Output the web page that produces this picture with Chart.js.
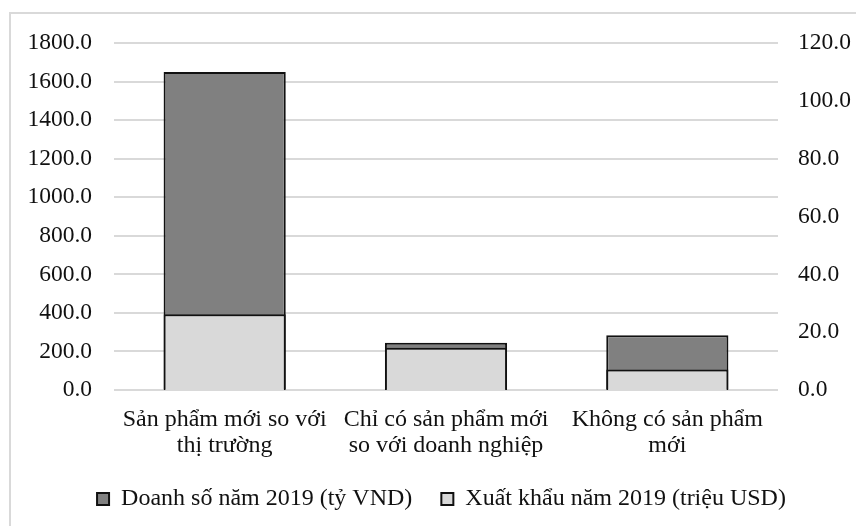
<!DOCTYPE html>
<html lang="vi">
<head>
<meta charset="utf-8">
<title>Doanh số và xuất khẩu 2019</title>
<script src="https://cdn.jsdelivr.net/npm/chart.js@4/dist/chart.umd.min.js"></script>
<style>
  html, body { margin: 0; padding: 0; background: #fff; }
  #khung { position: relative; width: 856px; height: 526px; overflow: hidden; }
  #vien { position: absolute; left: 9px; top: 12px; width: 900px; height: 600px;
          border: 2px solid #d9d9d9; box-sizing: border-box; }
  #bieu-do { position: absolute; left: 0; top: 0; }
</style>
</head>
<body>
<div id="khung">
  <div id="vien"></div>
  <canvas id="bieu-do" width="856" height="526"></canvas>
</div>
<script>
// Dữ liệu
const nhom = [
  ['Sản phẩm mới so với', 'thị trường'],
  ['Chỉ có sản phẩm mới', 'so với doanh nghiệp'],
  ['Không có sản phẩm', 'mới']
];
const doanhSo = [1650, 245, 284];     // tỷ VND - trục trái
const xuatKhau = [26.2, 14.6, 7.1];   // triệu USD - trục phải
const nhanTrucTrai = [0, 200, 400, 600, 800, 1000, 1200, 1400, 1600, 1800];
const nhanTrucPhai = [0, 20, 40, 60, 80, 100, 120];

const hoFont = '"Liberation Serif", "Times New Roman", serif';
const fontTruc = { family: hoFont, size: 23.5 };
const fontNhom = { family: hoFont, size: 24, lineHeight: 1.083 };
const fontChuGiai = { family: hoFont, size: 24 };
const mauChu = '#111';

const ctx = document.getElementById('bieu-do').getContext('2d');
new Chart(ctx, {
  type: 'bar',
  data: {
    labels: nhom,
    datasets: [
      {
        label: 'Doanh số năm 2019 (tỷ VND)',
        data: doanhSo,
        yAxisID: 'y',
        backgroundColor: '#808080',
        borderColor: '#111',
        borderWidth: 2,
        grouped: false,
        order: 1
      },
      {
        label: 'Xuất khẩu năm 2019 (triệu USD)',
        data: xuatKhau,
        yAxisID: 'y1',
        backgroundColor: '#d9d9d9',
        borderColor: '#111',
        borderWidth: 2,
        grouped: false,
        order: 0
      }
    ]
  },
  options: {
    responsive: false,
    animation: false,
    layout: { padding: { top: 43, left: 27, right: 0, bottom: 5 } },
    datasets: { bar: { barPercentage: 1, categoryPercentage: 0.552 } },
    plugins: {
      legend: {
        position: 'bottom',
        labels: {
          font: fontChuGiai,
          color: mauChu,
          boxWidth: 12,
          boxHeight: 12,
          padding: 29,
          sort: (a, b) => a.datasetIndex - b.datasetIndex
        }
      },
      tooltip: { enabled: false }
    },
    scales: {
      x: {
        grid: { display: false, drawTicks: false },
        border: { display: false },
        afterFit: s => { s.height = 68; },
        ticks: { font: fontNhom, color: mauChu, maxRotation: 0, autoSkip: false, padding: 17 }
      },
      y: {
        position: 'left',
        min: 0,
        max: 1800,
        afterBuildTicks: s => { s.ticks = nhanTrucTrai.map(v => ({ value: v })); },
        afterFit: s => { s.width = 87; },
        grid: { color: '#d9d9d9', lineWidth: 2, drawTicks: false },
        border: { display: false },
        ticks: { font: fontTruc, color: mauChu, padding: 22, callback: v => v.toFixed(1) }
      },
      y1: {
        position: 'right',
        min: 0,
        max: 120,
        afterBuildTicks: s => { s.ticks = nhanTrucPhai.map(v => ({ value: v })); },
        afterFit: s => { s.width = 78; },
        grid: { display: false, drawTicks: false },
        border: { display: false },
        ticks: { font: fontTruc, color: mauChu, padding: 20, callback: v => v.toFixed(1) }
      }
    }
  }
});
</script>
</body>
</html>
